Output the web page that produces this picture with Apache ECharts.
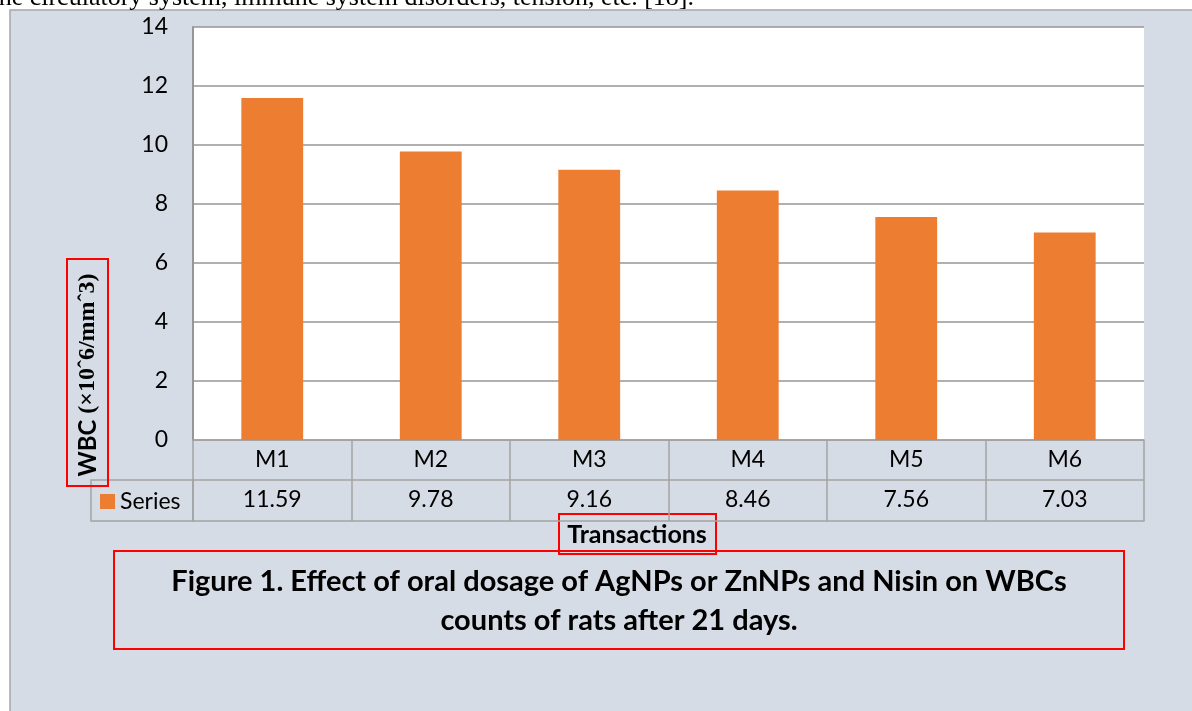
<!DOCTYPE html>
<html>
<head>
<meta charset="utf-8">
<style>
  html, body { margin: 0; padding: 0; background: #fff; }
  #chart { width: 1192px; height: 711px; }
</style>
<script src="https://cdn.jsdelivr.net/npm/echarts@6/dist/echarts.min.js"></script>
</head>
<body>
<div id="chart"></div>
<script>
// data
const categories = ['M1', 'M2', 'M3', 'M4', 'M5', 'M6']
const values = [11.59, 9.78, 9.16, 8.46, 7.56, 7.03]
const seriesName = 'Series'
const yTicks = { min: 0, max: 14, interval: 2 }

const C = {
  panel: '#d6dce5',
  grid: '#969696',
  table: '#a3a3a3',
  bar: '#ed7d31',
  text: '#000',
  red: '#ff0000',
}
const SANS = 'Lato, "Open Sans", sans-serif'
const SERIF = '"Liberation Serif", "DejaVu Serif", serif'

const chart = echarts.init(document.getElementById('chart'))

const tableAxis = (extra) => Object.assign({
  type: 'category',
  data: categories,
  position: 'bottom',
  gridIndex: 0,
  axisLine: { show: true, lineStyle: { color: C.table, width: 1.5 } },
  axisTick: { show: false },
  axisLabel: { show: false },
  splitLine: { show: false },
}, extra)

const cellLabel = { show: true, interval: 0, margin: 8, color: C.text, fontSize: 23, fontFamily: SANS }

chart.setOption({
  animation: false,
  backgroundColor: '#fff',
  textStyle: { fontFamily: SANS },
  graphic: [
    // outer chart panel
    { type: 'rect', z: -10, silent: true,
      shape: { x: 10, y: 10, width: 1200, height: 720 },
      style: { fill: C.panel, stroke: '#a6a6a6', lineWidth: 1.5 } },
    // page text cut off above the chart
    { type: 'text', z: -5, silent: true, x: 694, y: 11,
      style: { text: 'the circulatory system, immune system disorders, tension, etc. [18].',
        font: '26px ' + SERIF, fill: '#000', align: 'right', verticalAlign: 'bottom' } },
    // series label cell of the data table
    { type: 'rect', silent: true,
      shape: { x: 91, y: 480, width: 102, height: 41 },
      style: { fill: 'none', stroke: C.table, lineWidth: 1.5 } },
    // y axis name with red box
    { type: 'rect', silent: true,
      shape: { x: 67, y: 259, width: 41, height: 227 },
      style: { fill: 'none', stroke: C.red, lineWidth: 2 } },
    { type: 'text', silent: true, x: 88, y: 375, rotation: Math.PI / 2,
      style: {
        text: '{a|WBC }{b|(×10ˆ6/mmˆ3)}',
        align: 'center', verticalAlign: 'middle',
        rich: {
          a: { font: 'bold 24px ' + SANS, fill: '#000' },
          b: { font: 'bold 24px ' + SERIF, fill: '#000' },
        },
      } },
    // x axis name with red box
    { type: 'rect', silent: true,
      shape: { x: 559, y: 514, width: 157, height: 40 },
      style: { fill: 'none', stroke: C.red, lineWidth: 2 } },
    { type: 'text', silent: true, x: 637, y: 535,
      style: { text: 'Transactions', font: 'bold 25px ' + SANS, fill: '#000',
        align: 'center', verticalAlign: 'middle' } },
    // figure caption
    { type: 'rect', silent: true,
      shape: { x: 114, y: 551, width: 1010, height: 98 },
      style: { fill: 'none', stroke: C.red, lineWidth: 2 } },
    { type: 'text', silent: true, x: 619, y: 601,
      style: {
        text: 'Figure 1. Effect of oral dosage of AgNPs or ZnNPs and Nisin on WBCs\ncounts of rats after 21 days.',
        font: 'bold 29px ' + SANS, fill: '#000', lineHeight: 39,
        align: 'center', verticalAlign: 'middle' } },
  ],
  legend: {
    data: [seriesName],
    left: 95, top: 485,
    icon: 'rect', itemWidth: 15, itemHeight: 15, itemGap: 6,
    textStyle: { color: C.text, fontSize: 23, fontFamily: SANS },
  },
  grid: { left: 193, right: 48, top: 27, bottom: 271, show: true, backgroundColor: '#fff', borderWidth: 0 },
  xAxis: [
    tableAxis({
      axisTick: { show: true, length: 81, interval: 0, lineStyle: { color: C.table, width: 1.5 } },
      axisLabel: cellLabel,
    }),
    tableAxis({
      offset: 40,
      data: values.map(v => v.toFixed(2)),
      axisLabel: cellLabel,
    }),
    tableAxis({ offset: 81 }),
  ],
  yAxis: {
    type: 'value',
    min: yTicks.min, max: yTicks.max, interval: yTicks.interval,
    axisLine: { show: true, lineStyle: { color: C.grid, width: 2 } },
    axisTick: { show: false },
    axisLabel: { margin: 25, color: C.text, fontSize: 23, fontFamily: SANS },
    splitLine: { lineStyle: { color: C.grid, width: 1.5 } },
  },
  series: [{
    name: seriesName,
    type: 'bar',
    xAxisIndex: 0,
    barWidth: '39%',
    data: values,
    itemStyle: { color: C.bar },
  }],
})
</script>
</body>
</html>
